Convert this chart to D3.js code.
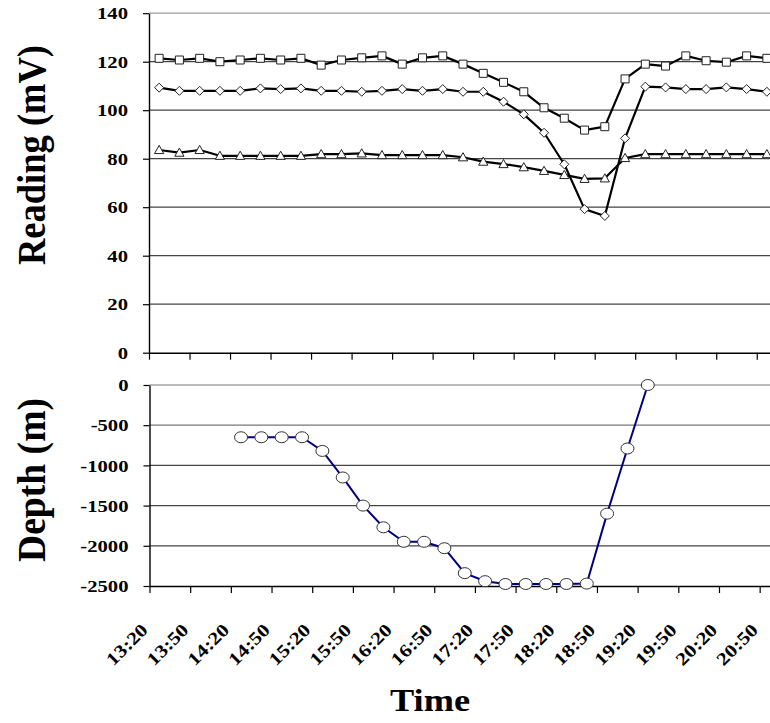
<!DOCTYPE html>
<html>
<head>
<meta charset="utf-8">
<script src="https://cdn.jsdelivr.net/npm/d3@7"></script>
<style>
  body { margin: 0; background: #fff; }
  text { font-family: "Liberation Serif", "Times New Roman", serif; font-weight: bold; fill: #000; }
</style>
</head>
<body>
<div id="chart"></div>
<script>
// categories: one reading every 15 minutes
const times = ["13:20", "13:35", "13:50", "14:05", "14:20", "14:35", "14:50", "15:05",
  "15:20", "15:35", "15:50", "16:05", "16:20", "16:35", "16:50", "17:05", "17:20",
  "17:35", "17:50", "18:05", "18:20", "18:35", "18:50", "19:05", "19:20", "19:35",
  "19:50", "20:05", "20:20", "20:35", "20:50"];
const tickLabels = ["13:20", "13:50", "14:20", "14:50", "15:20", "15:50", "16:20", "16:50",
  "17:20", "17:50", "18:20", "18:50", "19:20", "19:50", "20:20", "20:50"];

const squareReadings = [121.4, 120.7, 121.4, 120, 120.7, 121.4, 120.7, 121.4, 118.6, 120.7,
  121.6, 122.4, 119, 121.6, 122.4, 119, 115.2, 111.5, 107.6, 101, 96.7, 91.8, 93.2,
  112.9, 119, 118.2, 122.4, 120.4, 119.8, 122.4, 121.4];
const diamondReadings = [109.3, 108, 108, 108, 108, 109, 108.7, 109, 108, 108,
  107.6, 108, 108.7, 108, 108.7, 107.6, 107.6, 103.5, 98.3, 90.7, 77.7, 59.2, 56.4,
  88.4, 109.7, 109.4, 108.7, 108.7, 109.4, 108.7, 107.6];
const triangleReadings = [83.6, 82.5, 83.6, 81.2, 81.2, 81.2, 81.2, 81.2, 81.9, 81.9,
  82.2, 81.5, 81.5, 81.5, 81.5, 80.6, 78.8, 77.8, 76.5, 75, 73.3, 71.7, 71.9,
  80.3, 81.9, 81.9, 81.9, 81.9, 81.9, 81.9, 81.9];
const depths = [null, null, null, null, -650, -650, -650, -650, -820, -1150,
  -1500, -1770, -1950, -1950, -2030, -2340, -2440, -2475, -2475, -2475, -2475, -2470,
  -1600, -790, 0, null, null, null, null, null, null];

const readingTicks = [0, 20, 40, 60, 80, 100, 120, 140];
const depthTicks = [-2500, -2000, -1500, -1000, -500, 0];

var width = 770, height = 723;
var svg = d3.select("#chart").append("svg")
  .attr("width", width)
  .attr("height", height);

// scales (top and bottom panels are a hair different in the picture)
var xTop = d3.scaleBand().domain(times).range([149, 777]);
var xBot = d3.scaleBand().domain(times).range([149.5, 780]);
var xTopIdx = d3.scaleLinear().domain([0, times.length]).range(xTop.range());
var xBotIdx = d3.scaleLinear().domain([0, times.length]).range(xBot.range());
var yTop = d3.scaleLinear().domain([0, 140]).range([352.7, 13.2]);
var yBot = d3.scaleLinear().domain([-2500, 0]).range([586, 385]);
var tickIdx = d3.range(0, times.length, 2);

// widen text a bit, the reference font is broad
function stretch(sel, k) {
  sel.each(function () {
    var w = this.getComputedTextLength();
    d3.select(this).attr("textLength", w * k).attr("lengthAdjust", "spacingAndGlyphs");
  });
}

// gridlines
svg.append("g")
  .selectAll("line")
  .data(readingTicks.filter((d) => d > 0))
  .join("line")
  .attr("x1", 149).attr("x2", width)
  .attr("y1", (d) => yTop(d)).attr("y2", (d) => yTop(d))
  .attr("stroke", (d) => (d === 140 ? "#9a9a9a" : "#444"))
  .attr("stroke-width", 1.2);

svg.append("g")
  .selectAll("line")
  .data(depthTicks.filter((d) => d > -2500))
  .join("line")
  .attr("x1", 149.5).attr("x2", width)
  .attr("y1", (d) => yBot(d)).attr("y2", (d) => yBot(d))
  .attr("stroke", (d) => (d >= -500 ? "#777" : "#444"))
  .attr("stroke-width", 1.2);

// Y axes
var yAxisTop = svg.append("g")
  .attr("transform", "translate(149,0)")
  .call(d3.axisLeft(yTop).tickValues(readingTicks).tickSize(6).tickSizeOuter(0).tickPadding(15));
var yAxisBot = svg.append("g")
  .attr("transform", "translate(149.5,0)")
  .call(d3.axisLeft(yBot).tickValues(depthTicks).tickSize(6).tickSizeOuter(0).tickPadding(15)
    .tickFormat((d) => String(d)));

// X axes (ticks every 30 minutes, at category edges)
var xAxisTop = svg.append("g")
  .attr("transform", "translate(0," + yTop(0) + ")")
  .call(d3.axisBottom(xTopIdx).tickValues(tickIdx).tickSize(7).tickSizeOuter(0).tickFormat(""));
var xAxisBot = svg.append("g")
  .attr("transform", "translate(0," + yBot(-2500) + ")")
  .call(d3.axisBottom(xBotIdx).tickValues(tickIdx).tickSize(7).tickSizeOuter(0)
    .tickFormat((d, k) => tickLabels[k]));

[yAxisTop, yAxisBot, xAxisTop, xAxisBot].forEach(function (ax) {
  ax.attr("font-family", null);
  ax.select(".domain").attr("stroke", "#000").attr("stroke-width", 1.4);
  ax.selectAll(".tick line").attr("stroke", "#000").attr("stroke-width", 1.2);
  ax.selectAll("text").style("font-size", "17.5px").attr("fill", "#000");
});
yAxisTop.selectAll("text").call(stretch, 1.18);
yAxisBot.selectAll("text").call(stretch, 1.18);

xAxisBot.selectAll("text")
  .style("font-size", "18px")
  .attr("x", 0).attr("y", 0).attr("dy", 0)
  .attr("text-anchor", "end")
  .attr("transform", "translate(-1,45) rotate(-45)")
  .call(stretch, 1.2);

// reading series
var markerPaths = {
  square: "M-4,-4H4V4H-4Z",
  diamond: "M0,-4.5L4.5,0L0,4.5L-4.5,0Z",
  triangle: "M0,-4.6L4.6,3.6L-4.6,3.6Z",
};
var readingSeries = [
  { values: squareReadings, shape: "square" },
  { values: diamondReadings, shape: "diamond" },
  { values: triangleReadings, shape: "triangle" },
];

var lineTop = d3.line()
  .x((d, i) => xTop(times[i]) + xTop.bandwidth() / 2)
  .y((d) => yTop(d));

readingSeries.forEach(function (s) {
  svg.append("path")
    .datum(s.values)
    .attr("d", lineTop)
    .attr("fill", "none")
    .attr("stroke", "#000")
    .attr("stroke-width", 2.2)
    .attr("stroke-linejoin", "round");
});
readingSeries.forEach(function (s) {
  svg.append("g")
    .selectAll("path")
    .data(s.values)
    .join("path")
    .attr("d", markerPaths[s.shape])
    .attr("transform", (d, i) =>
      "translate(" + (xTop(times[i]) + xTop.bandwidth() / 2) + "," + yTop(d) + ")")
    .attr("fill", "#fff")
    .attr("stroke", "#222")
    .attr("stroke-width", 1);
});

// depth series
var depthPoints = depths
  .map((d, i) => ({ t: times[i], v: d }))
  .filter((p) => p.v !== null);

svg.append("path")
  .datum(depthPoints)
  .attr("d", d3.line()
    .x((p) => xBot(p.t) + xBot.bandwidth() / 2)
    .y((p) => yBot(p.v)))
  .attr("fill", "none")
  .attr("stroke", "#000080")
  .attr("stroke-width", 2);

svg.append("g")
  .selectAll("ellipse")
  .data(depthPoints)
  .join("ellipse")
  .attr("cx", (p) => xBot(p.t) + xBot.bandwidth() / 2)
  .attr("cy", (p) => yBot(p.v))
  .attr("rx", 6.5)
  .attr("ry", 5.5)
  .attr("fill", "#fff")
  .attr("stroke", "#333")
  .attr("stroke-width", 1);

// axis titles
svg.append("text")
  .attr("transform", "translate(45,155) rotate(-90)")
  .attr("text-anchor", "middle")
  .style("font-size", "39px")
  .attr("textLength", 220)
  .attr("lengthAdjust", "spacingAndGlyphs")
  .text("Reading (mV)");

svg.append("text")
  .attr("transform", "translate(45,480) rotate(-90)")
  .attr("text-anchor", "middle")
  .style("font-size", "39px")
  .attr("textLength", 164)
  .attr("lengthAdjust", "spacingAndGlyphs")
  .text("Depth (m)");

svg.append("text")
  .attr("transform", "translate(430,711)")
  .attr("text-anchor", "middle")
  .style("font-size", "31px")
  .attr("textLength", 80)
  .attr("lengthAdjust", "spacingAndGlyphs")
  .text("Time");
</script>
</body>
</html>
